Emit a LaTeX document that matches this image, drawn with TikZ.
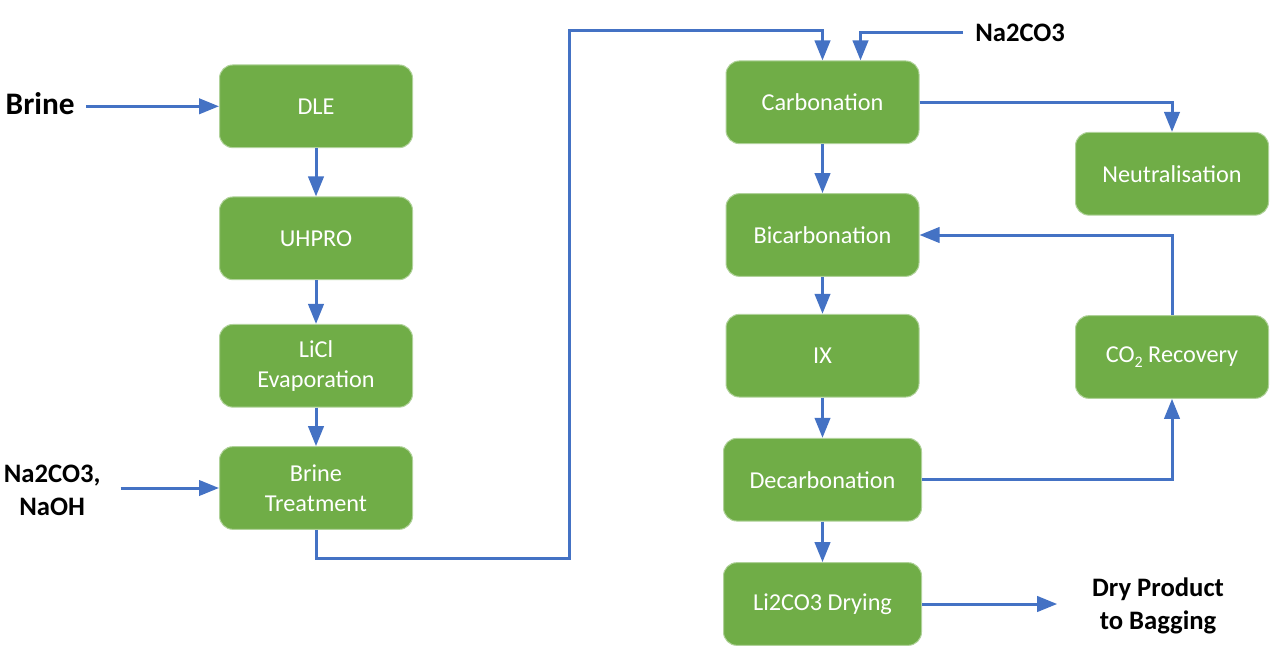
\documentclass[tikz,border=0pt]{standalone}
\usepackage{fontspec}
\setmainfont{Carlito}
\usepackage{xcolor}
\usetikzlibrary{arrows.meta,positioning}

\definecolor{procgreen}{HTML}{70AD47}
\definecolor{flowblue}{HTML}{4472C4}

\begin{document}
\begin{tikzpicture}[->, >={Triangle[length=15pt, width=11.5pt]}, x=0.75pt, y=-0.75pt]
	\tikzstyle{process}=[fill=procgreen, draw=procgreen!55!white, line width=0.75pt, rounded corners=10pt, text=white, align=center, minimum width=144.75pt, minimum height=62pt, font=\fontsize{18.2}{22.5}\selectfont]
	\tikzstyle{feed}=[text=black, align=center, font=\bfseries\fontsize{20}{25}\selectfont]
	\tikzstyle{flow}=[color=flowblue, line width=2.25pt]

	\useasboundingbox (0,0) rectangle (1273,656);

	% lithium chloride side
	\node[process] (DLE) at (316,106.3) {DLE};
	\node[process] (UHPRO) at (316,238.3) {UHPRO};
	\node[process] (LiCl) at (316,365.8) {LiCl\\Evaporation};
	\node[process] (Treat) at (316,488) {Brine\\Treatment};

	% carbonate side
	\node[process] (Carb) at (822.5,102.3) {Carbonation};
	\node[process] (Bicarb) at (822.5,235) {Bicarbonation};
	\node[process] (IX) at (822.5,355.7) {IX};
	\node[process, minimum width=148.5pt] (Decarb) at (822.5,479.7) {Decarbonation};
	\node[process, minimum width=148.5pt] (Dry) at (822.5,604) {Li2CO3 Drying};
	\node[process] (Neut) at (1172,173.8) {Neutralisation};
	\node[process] (CO2) at (1172,357) {CO\raisebox{-0.45ex}{\fontsize{12}{12}\selectfont 2} Recovery};

	% feeds and product
	\node[feed, font=\bfseries\fontsize{23.5}{28}\selectfont, anchor=east, inner xsep=8.25pt] (Brine) at (86,104) {Brine};
	\node[feed, anchor=east, inner xsep=15pt] (Soda) at (120.7,490.5) {Na2CO3,\\NaOH};
	\node[feed, anchor=west, inner xsep=9pt] (SodaTop) at (963,33) {Na2CO3};
	\node[feed, inner xsep=26pt] (Bag) at (1158,606) {Dry Product\\to Bagging};

	\coordinate (lower) at (569,558);
	\coordinate (upper) at (569,31);

	\path[flow] (DLE) edge (UHPRO)
		(UHPRO) edge (LiCl)
		(LiCl) edge (Treat)
		(Carb) edge (Bicarb)
		(Bicarb) edge (IX)
		(IX) edge (Decarb)
		(Decarb) edge (Dry);

	\draw[flow] (Brine.east |- DLE.west) -- (DLE.west);
	\draw[flow] (Soda.east |- Treat.west) -- (Treat.west);
	\draw[flow] (Treat.south) |- (lower) -- (upper) -| (Carb.north);
	\draw[flow] (SodaTop.west) -| ([xshift=28.5pt]Carb.north);
	\draw[flow] (Carb.east) -| (Neut.north);
	\draw[flow] (Decarb.east) -| (CO2.south);
	\draw[flow] (CO2.north) |- (Bicarb.east);
	\draw[flow] (Dry.east) -- (Bag.west |- Dry.east);

\end{tikzpicture}
\end{document}
